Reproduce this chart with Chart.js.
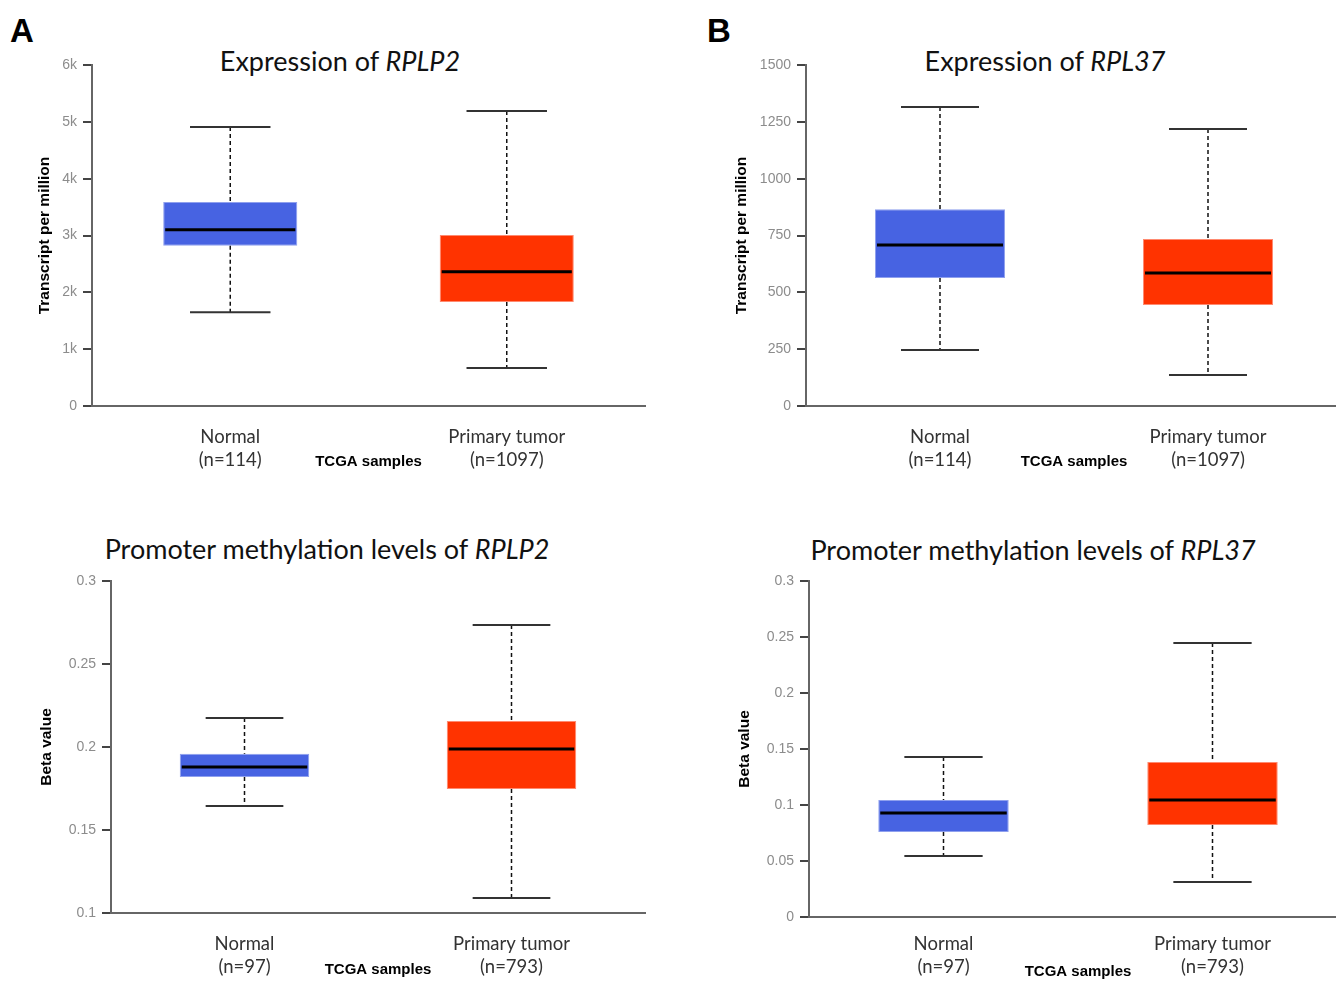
<!DOCTYPE html>
<html lang="en">
<head>
<meta charset="UTF-8">
<title>RPLP2 / RPL37 expression and promoter methylation</title>
<script src="https://cdn.jsdelivr.net/npm/chart.js"></script>
<style>
  html, body { margin: 0; padding: 0; background: #fff; overflow: hidden; }
  body { width: 1336px; height: 981px; position: relative; }
  .panel { position: absolute; }
  .title { position: absolute; transform: translate(-50%, -50%); font-family: Lato, sans-serif;
           font-size: 27px; color: #111; white-space: nowrap; line-height: 1.2; }
  .letter { position: absolute; font-family: 'Liberation Sans', Arial, sans-serif; font-weight: bold;
            font-size: 33px; line-height: 33px; color: #000; }
</style>
</head>
<body>
<div class="letter" style="left:10px; top:14px">A</div>
<div class="letter" style="left:707px; top:14px">B</div>

<div class="title" style="left:340px; top:61px">Expression of <i>RPLP2</i></div>
<div class="title" style="left:1045px; top:61px">Expression of <i>RPL37</i></div>
<div class="title" style="left:327px; top:549px">Promoter methylation levels of <i>RPLP2</i></div>
<div class="title" style="left:1033px; top:550px">Promoter methylation levels of <i>RPL37</i></div>

<div class="panel" style="left:0; top:0; width:660px; height:480px"><canvas id="exprRplp2"></canvas></div>
<div class="panel" style="left:680px; top:0; width:662px; height:480px"><canvas id="exprRpl37"></canvas></div>
<div class="panel" style="left:0; top:480px; width:660px; height:501px"><canvas id="methRplp2"></canvas></div>
<div class="panel" style="left:680px; top:480px; width:667px; height:501px"><canvas id="methRpl37"></canvas></div>

<script>
    // categories (two-line tick labels)
    const exprCategories = [['Normal', '(n=114)'], ['Primary tumor', '(n=1097)']];
    const methCategories = [['Normal', '(n=97)'], ['Primary tumor', '(n=793)']];

    // each box: [lower whisker, Q1, median, Q3, upper whisker]
    const rplp2ExprNormal = [1650, 2820, 3100, 3590, 4910];
    const rplp2ExprTumor  = [670, 1830, 2360, 3010, 5190];
    const rpl37ExprNormal = [246, 563, 708, 866, 1315];
    const rpl37ExprTumor  = [136, 444, 585, 735, 1218];
    const rplp2MethNormal = [0.1645, 0.182, 0.188, 0.196, 0.2175];
    const rplp2MethTumor  = [0.109, 0.1747, 0.1988, 0.2157, 0.2735];
    const rpl37MethNormal = [0.0545, 0.0759, 0.0929, 0.1045, 0.1429];
    const rpl37MethTumor  = [0.0313, 0.0821, 0.1045, 0.1384, 0.2446];

    // y tick labels
    const rplp2ExprTicks = ['0', '1k', '2k', '3k', '4k', '5k', '6k'];
    const rpl37ExprTicks = ['0', '250', '500', '750', '1000', '1250', '1500'];
    const rplp2MethTicks = ['0.1', '0.15', '0.2', '0.25', '0.3'];
    const rpl37MethTicks = ['0', '0.05', '0.1', '0.15', '0.2', '0.25', '0.3'];

    Chart.defaults.font.family = "'Liberation Sans', Arial, sans-serif";
    Chart.defaults.animation = false;

    // whiskers, caps and median drawn on top of the floating-bar boxes
    const boxWhiskers = {
        id: 'boxWhiskers',
        afterDatasetsDraw(chart) {
            const ctx = chart.ctx;
            const y = chart.scales.y;
            const stats = chart.data.datasets[0].stats;
            chart.getDatasetMeta(0).data.forEach((bar, i) => {
                const [lo, q1, med, q3, hi] = stats[i];
                const { x, width } = bar.getProps(['x', 'width'], true);
                const half = width / 2;
                const cap = width * 0.3;
                ctx.save();
                ctx.strokeStyle = '#111';
                ctx.lineWidth = 1.5;
                ctx.setLineDash([4, 3]);
                ctx.beginPath();
                ctx.moveTo(x, y.getPixelForValue(hi));
                ctx.lineTo(x, y.getPixelForValue(q3));
                ctx.moveTo(x, y.getPixelForValue(q1));
                ctx.lineTo(x, y.getPixelForValue(lo));
                ctx.stroke();
                ctx.setLineDash([]);
                ctx.strokeStyle = '#333';
                ctx.lineWidth = 2;
                ctx.beginPath();
                ctx.moveTo(x - cap, y.getPixelForValue(hi));
                ctx.lineTo(x + cap, y.getPixelForValue(hi));
                ctx.moveTo(x - cap, y.getPixelForValue(lo));
                ctx.lineTo(x + cap, y.getPixelForValue(lo));
                ctx.stroke();
                ctx.strokeStyle = '#000';
                ctx.lineWidth = 3;
                ctx.beginPath();
                ctx.moveTo(x - half + 2, y.getPixelForValue(med));
                ctx.lineTo(x + half - 2, y.getPixelForValue(med));
                ctx.stroke();
                ctx.restore();
            });
        }
    };

    function boxChart(id, cfg) {
        const boxes = [cfg.normal, cfg.tumor];
        return new Chart(document.getElementById(id), {
            type: 'bar',
            data: {
                labels: cfg.categories,
                datasets: [{
                    data: boxes.map(b => [b[1], b[3]]),
                    stats: boxes,
                    backgroundColor: ['#4763E2', '#FF3300'],
                    borderColor: ['#8FA0EE', '#FF8A70'],
                    borderWidth: 1,
                    borderSkipped: false,
                    barPercentage: 0.485,
                    categoryPercentage: 1
                }]
            },
            options: {
                responsive: true,
                maintainAspectRatio: false,
                layout: { padding: cfg.padding },
                plugins: { legend: { display: false }, tooltip: { enabled: false } },
                scales: {
                    x: {
                        grid: { display: false, drawTicks: false },
                        border: { display: true, color: '#666', width: 2 },
                        ticks: { color: '#333', padding: cfg.xTickPad,
                                 font: { family: 'Lato', size: 18.5, lineHeight: 1.25 } },
                        title: { display: true, text: 'TCGA samples', color: '#000',
                                 font: { size: 15, weight: 'bold' },
                                 padding: { top: 0, bottom: cfg.xTitlePad } },
                        afterFit: s => { s.height = cfg.xHeight; }
                    },
                    y: {
                        min: cfg.min, max: cfg.max,
                        grid: { drawOnChartArea: false, drawTicks: true, tickLength: 9,
                                color: '#444', lineWidth: 2 },
                        border: { display: true, color: '#666', width: 2 },
                        ticks: { stepSize: cfg.step, color: '#8c8c8c', padding: 6,
                                 font: { size: 14 },
                                 callback: (v, i) => cfg.tickLabels[i] },
                        title: { display: true, text: cfg.yTitle, color: '#000',
                                 font: { size: 15.5, weight: 'bold' },
                                 padding: { top: cfg.yTitlePad, bottom: 0 } },
                        afterFit: s => { s.width = cfg.yWidth; }
                    }
                }
            },
            plugins: [boxWhiskers]
        });
    }

    boxChart('exprRplp2', {
        categories: exprCategories, normal: rplp2ExprNormal, tumor: rplp2ExprTumor,
        min: 0, max: 6000, step: 1000, tickLabels: rplp2ExprTicks,
        yTitle: 'Transcript per million', yTitlePad: 35, yWidth: 92,
        xHeight: 74, xTickPad: 19, xTitlePad: 9.5,
        padding: { top: 65, right: 15, bottom: 0, left: 0 }
    });
    boxChart('exprRpl37', {
        categories: exprCategories, normal: rpl37ExprNormal, tumor: rpl37ExprTumor,
        min: 0, max: 1500, step: 250, tickLabels: rpl37ExprTicks,
        yTitle: 'Transcript per million', yTitlePad: 52, yWidth: 126,
        xHeight: 74, xTickPad: 19, xTitlePad: 9.5,
        padding: { top: 65, right: 0, bottom: 0, left: 0 }
    });
    boxChart('methRplp2', {
        categories: methCategories, normal: rplp2MethNormal, tumor: rplp2MethTumor,
        min: 0.1, max: 0.3, step: 0.05, tickLabels: rplp2MethTicks,
        yTitle: 'Beta value', yTitlePad: 37, yWidth: 111,
        xHeight: 68, xTickPad: 19, xTitlePad: 2.5,
        padding: { top: 101, right: 15, bottom: 0, left: 0 }
    });
    boxChart('methRpl37', {
        categories: methCategories, normal: rpl37MethNormal, tumor: rpl37MethTumor,
        min: 0, max: 0.3, step: 0.05, tickLabels: rpl37MethTicks,
        yTitle: 'Beta value', yTitlePad: 55, yWidth: 129,
        xHeight: 64, xTickPad: 15, xTitlePad: 0,
        padding: { top: 101, right: 0, bottom: 0, left: 0 }
    });
</script>
</body>
</html>
